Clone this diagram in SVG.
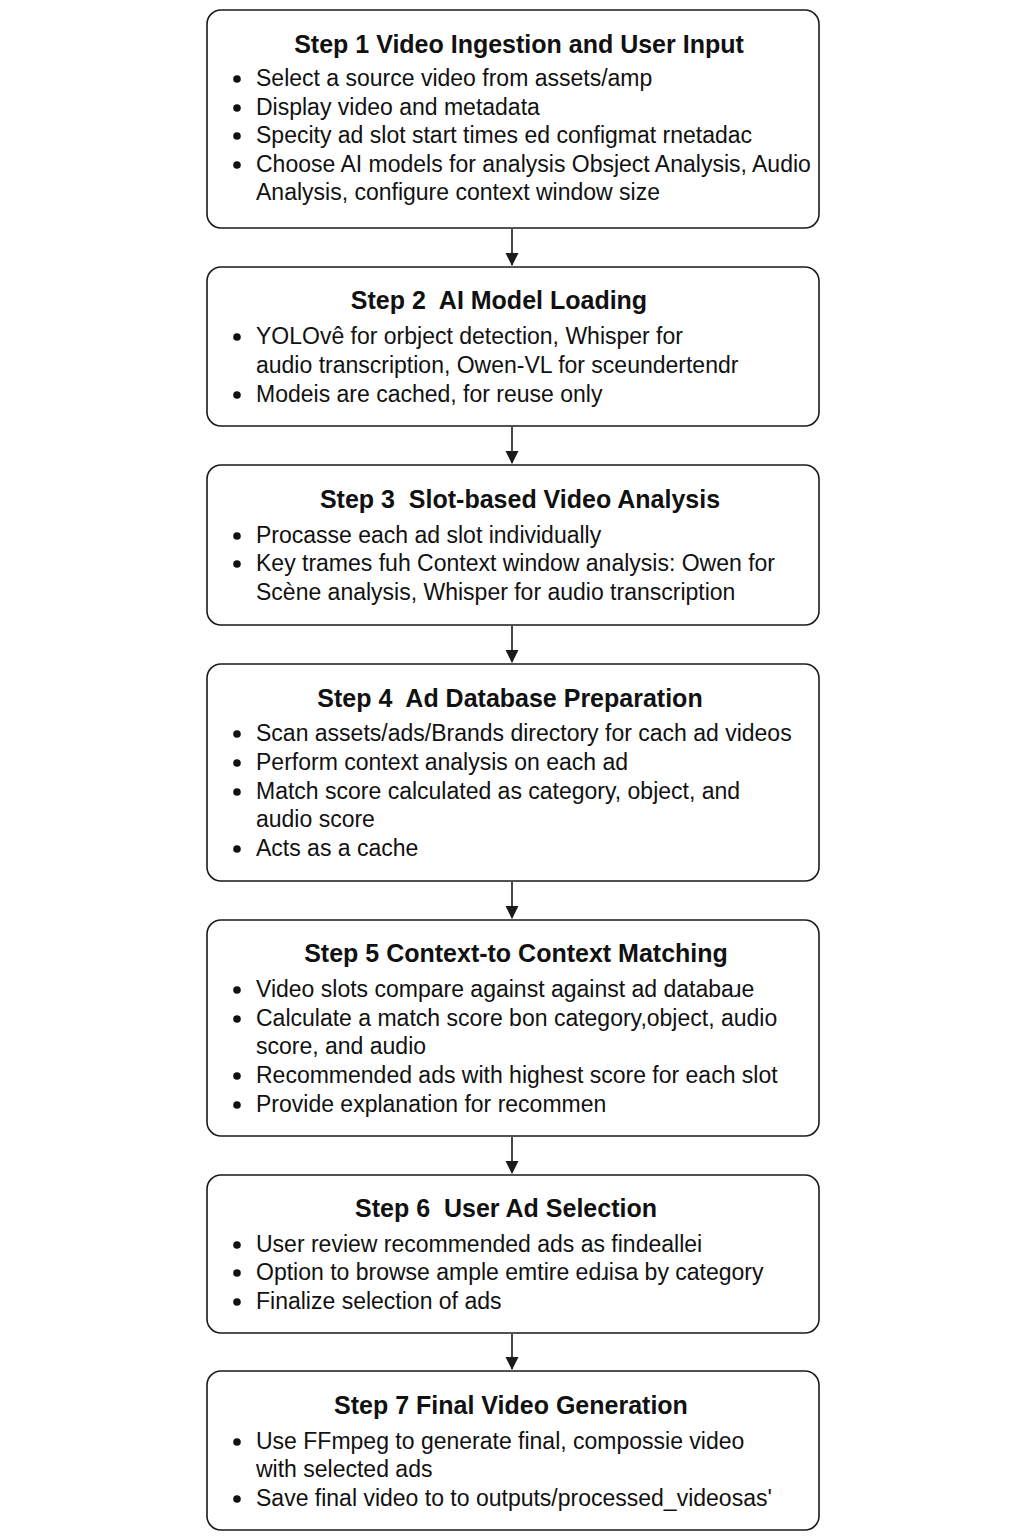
<svg xmlns="http://www.w3.org/2000/svg" width="1024" height="1536" viewBox="0 0 1024 1536">
<style>
.box{fill:#fff;stroke:#1a1a1a;stroke-width:1.6}
.t{font-family:"Liberation Sans",Arial,sans-serif;font-weight:bold;font-size:25px;fill:#111;text-anchor:middle}
.b{font-family:"Liberation Sans",Arial,sans-serif;font-size:23px;fill:#111}
.c{stroke:#1a1a1a;stroke-width:1.6;fill:none;marker-end:url(#ah)}
</style>
<defs>
<marker id="ah" markerWidth="14" markerHeight="14" refX="12" refY="6.5" orient="auto" markerUnits="userSpaceOnUse">
<path d="M0,0 L13,6.5 L0,13 Z" fill="#1a1a1a"/>
</marker>
<circle id="dot" r="3.8" fill="#111"/>
</defs>
<rect width="1024" height="1536" fill="#fff"/>
<g id="connectors">
<line class="c" x1="512" y1="229" x2="512" y2="265"/>
<line class="c" x1="512" y1="427" x2="512" y2="463"/>
<line class="c" x1="512" y1="626" x2="512" y2="662"/>
<line class="c" x1="512" y1="882" x2="512" y2="918"/>
<line class="c" x1="512" y1="1137" x2="512" y2="1173"/>
<line class="c" x1="512" y1="1334" x2="512" y2="1369"/>
</g>
<g id="step1">
<rect class="box" x="207" y="10" width="612" height="218" rx="14"/>
<text class="t" x="519" y="53">Step 1 Video Ingestion and User Input</text>
<use href="#dot" x="237" y="79"/><text class="b" x="256" y="86">Select a source video from assets/amp</text>
<use href="#dot" x="237" y="108"/><text class="b" x="256" y="115">Display video and metadata</text>
<use href="#dot" x="237" y="136"/><text class="b" x="256" y="143">Specity ad slot start times ed configmat rnetadac</text>
<use href="#dot" x="237" y="165"/><text class="b" x="256" y="172">Choose AI models for analysis Obsject Analysis, Audio</text>
<text class="b" x="256" y="200">Analysis, configure context window size</text>
</g>
<g id="step2">
<rect class="box" x="207" y="267" width="612" height="159" rx="14"/>
<text class="t" x="499" y="309" xml:space="preserve">Step 2  AI Model Loading</text>
<use href="#dot" x="237" y="337"/><text class="b" x="256" y="344">YOLOvê for orbject detection, Whisper for</text>
<text class="b" x="256" y="373">audio transcription, Owen-VL for sceundertendr</text>
<use href="#dot" x="237" y="395"/><text class="b" x="256" y="402">Modeis are cached, for reuse only</text>
</g>
<g id="step3">
<rect class="box" x="207" y="465" width="612" height="160" rx="14"/>
<text class="t" x="520" y="508" xml:space="preserve">Step 3  Slot-based Video Analysis</text>
<use href="#dot" x="237" y="536"/><text class="b" x="256" y="543">Procasse each ad slot individually</text>
<use href="#dot" x="237" y="564"/><text class="b" x="256" y="571">Key trames fuh Context window analysis: Owen for</text>
<text class="b" x="256" y="600">Scène analysis, Whisper for audio transcription</text>
</g>
<g id="step4">
<rect class="box" x="207" y="664" width="612" height="217" rx="14"/>
<text class="t" x="510" y="707" xml:space="preserve">Step 4  Ad Database Preparation</text>
<use href="#dot" x="237" y="734"/><text class="b" x="256" y="741">Scan assets/ads/Brands directory for cach ad videos</text>
<use href="#dot" x="237" y="763"/><text class="b" x="256" y="770">Perform context analysis on each ad</text>
<use href="#dot" x="237" y="792"/><text class="b" x="256" y="799">Match score calculated as category, object, and</text>
<text class="b" x="256" y="827">audio score</text>
<use href="#dot" x="237" y="849"/><text class="b" x="256" y="856">Acts as a cache</text>
</g>
<g id="step5">
<rect class="box" x="207" y="920" width="612" height="216" rx="14"/>
<text class="t" x="516" y="962">Step 5 Context-to Context Matching</text>
<use href="#dot" x="237" y="990"/><text class="b" x="256" y="997">Video slots compare against against ad databaɹe</text>
<use href="#dot" x="237" y="1019"/><text class="b" x="256" y="1026">Calculate a match score bon category,object, audio</text>
<text class="b" x="256" y="1054">score, and audio</text>
<use href="#dot" x="237" y="1076"/><text class="b" x="256" y="1083">Recommended ads with highest score for each slot</text>
<use href="#dot" x="237" y="1105"/><text class="b" x="256" y="1112">Provide explanation for recommen</text>
</g>
<g id="step6">
<rect class="box" x="207" y="1175" width="612" height="158" rx="14"/>
<text class="t" x="506" y="1217" xml:space="preserve">Step 6  User Ad Selection</text>
<use href="#dot" x="237" y="1245"/><text class="b" x="256" y="1252">User review recommended ads as findeallei</text>
<use href="#dot" x="237" y="1273"/><text class="b" x="256" y="1280">Option to browse ample emtire edɹisa by category</text>
<use href="#dot" x="237" y="1302"/><text class="b" x="256" y="1309">Finalize selection of ads</text>
</g>
<g id="step7">
<rect class="box" x="207" y="1371" width="612" height="159" rx="14"/>
<text class="t" x="511" y="1414">Step 7 Final Video Generation</text>
<use href="#dot" x="237" y="1442"/><text class="b" x="256" y="1449">Use FFmpeg to generate final, compossie video</text>
<text class="b" x="256" y="1477">with selected ads</text>
<use href="#dot" x="237" y="1499"/><text class="b" x="256" y="1506">Save final video to to outputs/processed_videosas'</text>
</g>
</svg>
